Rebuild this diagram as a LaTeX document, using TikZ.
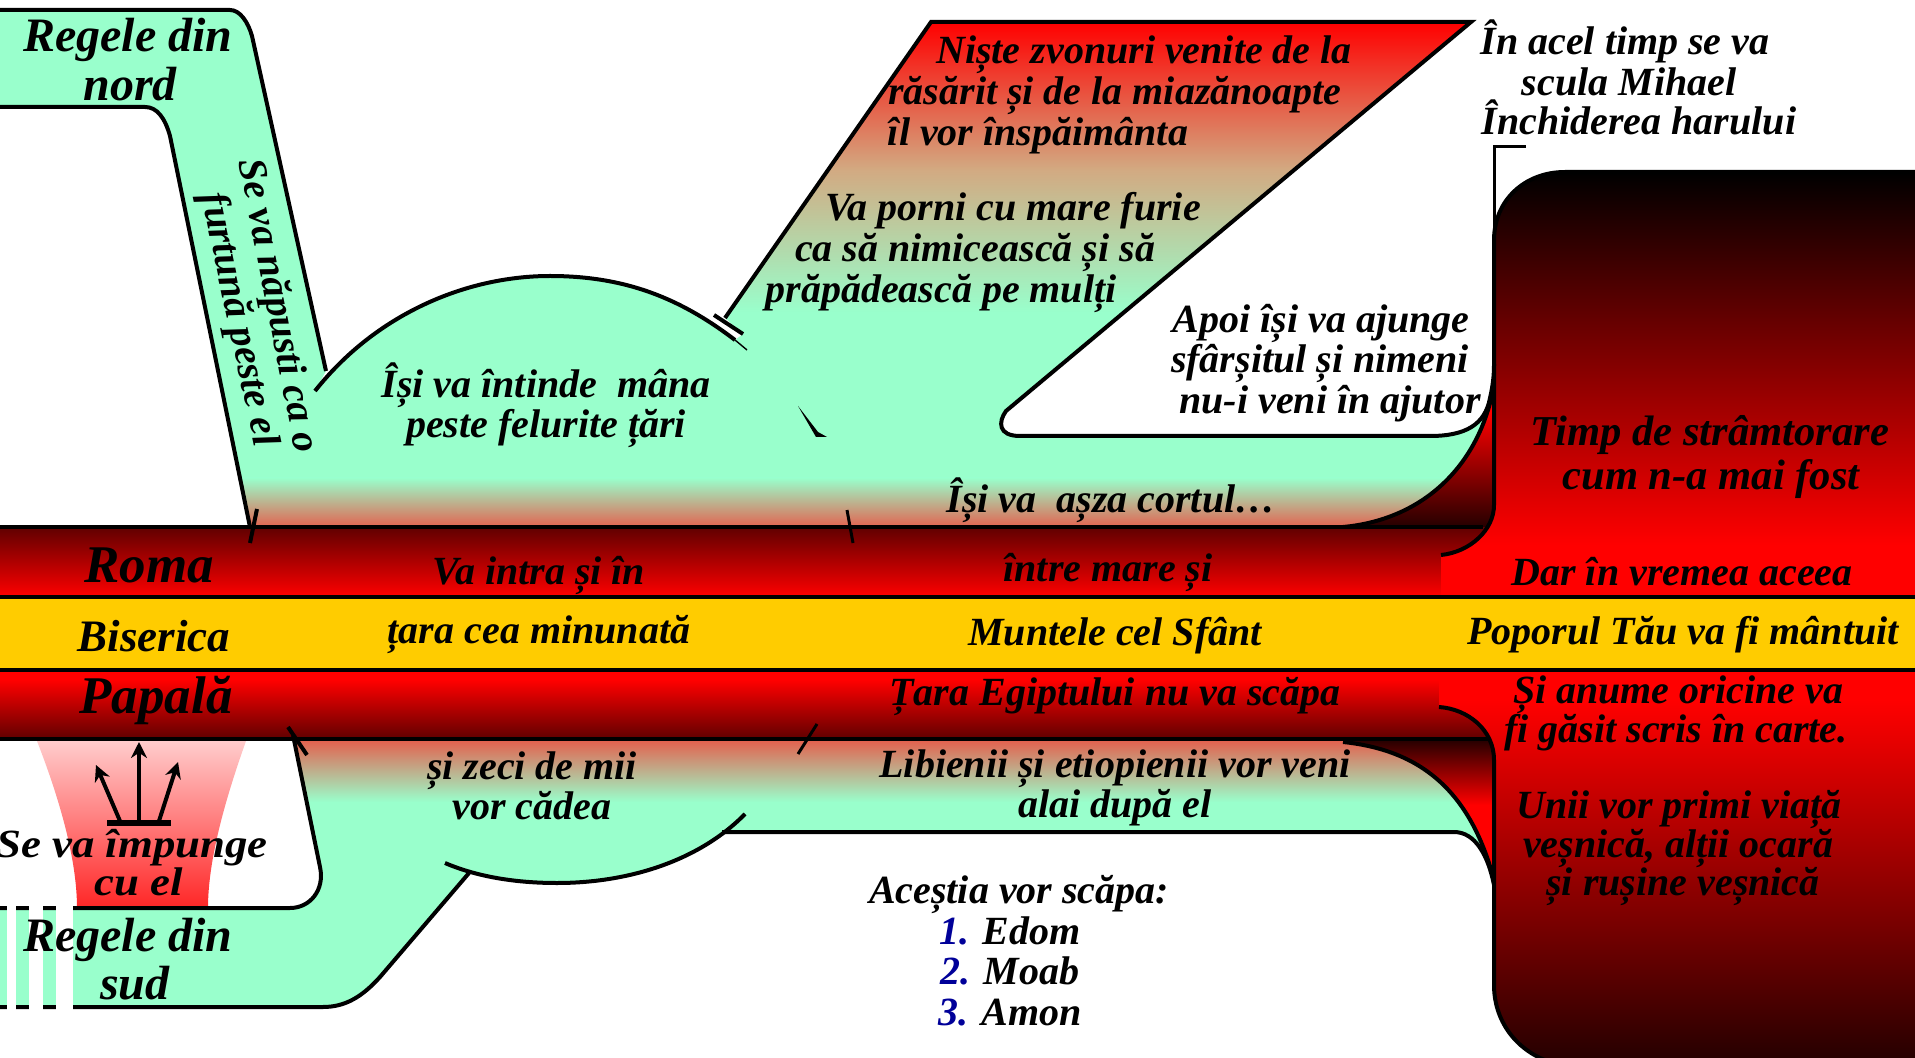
\documentclass[tikz,border=0pt]{standalone}
\usepackage{fontspec}
\setmainfont{Liberation Serif}
\usetikzlibrary{arrows.meta}
\definecolor{mint}{HTML}{99FFCC}
\definecolor{gold}{HTML}{FFCC00}
\definecolor{bandred}{HTML}{FF0000}
\definecolor{dkred}{HTML}{600000}
\definecolor{salmon}{HTML}{E26350}
\definecolor{tan}{HTML}{D2AA82}
\definecolor{numblue}{HTML}{000099}
\definecolor{nearblack}{HTML}{200000}
\newcommand{\fsz}[1]{\fontsize{#1}{#1}\selectfont\bfseries\itshape}
\tikzset{
  outl/.style={draw=black,line width=2pt,line cap=butt,line join=round},
  thinl/.style={draw=black,line width=1.5pt},
  txt/.style={inner sep=0pt,text=black,font=\fsz{20},text height=14pt,text depth=4pt},
  big/.style={txt,font=\fsz{24},text height=17pt,text depth=5pt},
  label/.style={txt,font=\fsz{26.5},text height=18.5pt,text depth=5.5pt},
  lab2/.style={txt,font=\fsz{22.5},text height=16pt,text depth=5pt},
  mid/.style={txt,font=\fsz{21.3},text height=15pt,text depth=4pt},
  up/.style={-{Stealth[length=8pt,width=8pt]},line width=2pt}
}
\begin{document}
\begin{tikzpicture}[x=0.5pt,y=-0.5pt]
\useasboundingbox (0,0) rectangle (1915,1058);
\clip (0,0) rectangle (1915,1058);
\fill[white] (0,0) rectangle (1915,1058);

% ---- wedges beside the large box
\begin{scope}
\clip (1343,527) .. controls (1420,520) and (1475,470) .. (1492,395) -- (1498,395) -- (1498,530) -- (1343,530) -- cycle;
\shade[top color=bandred,bottom color=nearblack] (1343,412) rectangle (1498,530);
\fill[bandred] (1343,390) rectangle (1498,412);
\end{scope}
\begin{scope}
\clip (1343,738) -- (1498,738) -- (1498,885) -- (1494,880) .. controls (1470,790) and (1420,750) .. (1343,742) -- cycle;
\shade[top color=nearblack,bottom color=bandred] (1343,738) rectangle (1498,805);
\fill[bandred] (1343,805) rectangle (1498,890);
\end{scope}

% ---- upper mint region
\begin{scope}
\clip (-5,10) -- (230,10) .. controls (240,10) and (248,22) .. (252,36) -- (326,371) -- (315,391)
  .. controls (375,315) and (465,276) .. (550,276) .. controls (625,276) and (680,298) .. (735,340)
  -- (743,334) -- (725,318) -- (931,22) -- (1471,22) -- (1006,411) .. controls (998,422) and (998,436) .. (1020,436)
  -- (1430,436) .. controls (1465,436) and (1485,425) .. (1490,398) -- (1492,395)
  .. controls (1475,470) and (1420,520) .. (1343,527) -- (250,527) -- (170,136)
  .. controls (165,118) and (157,107) .. (145,107) -- (-5,107) -- cycle;
\fill[mint] (-5,0) rectangle (1500,530);
\shade[top color=red,bottom color=tan] (700,22) rectangle (1500,170);
\shade[top color=tan,bottom color=mint] (700,170) rectangle (1500,312);
\shade[top color=mint,bottom color=salmon] (200,478) rectangle (1500,527);
\end{scope}

% ---- lower mint region
\begin{scope}
\clip (295,739) -- (320,867) .. controls (325,890) and (310,908) .. (290,908) -- (-5,908) -- (-5,1007)
  -- (323,1007) .. controls (345,1007) and (362,997) .. (380,977) -- (469,873)
  -- (445,863) .. controls (480,878) and (520,883) .. (557,883) .. controls (630,883) and (700,860) .. (745,814)
  -- (722,832) -- (1454,832) .. controls (1475,832) and (1488,855) .. (1494,885)
  .. controls (1470,790) and (1420,750) .. (1343,742) -- (1343,739) -- cycle;
\fill[mint] (-5,735) rectangle (1500,1010);
\shade[top color=salmon,bottom color=mint] (200,741) rectangle (1500,802);
\end{scope}

% ---- bands
\shade[top color=dkred,bottom color=bandred] (-2,527) rectangle (1494,597);
\shade[top color=bandred,bottom color=dkred] (-2,680) rectangle (1494,739);
\fill[bandred] (-2,670) rectangle (1494,680);

% ---- large box, upper and lower parts
\begin{scope}
\clip (1920,172) -- (1565,172) .. controls (1525,172) and (1494,200) .. (1494,240) -- (1494,505)
  .. controls (1494,530) and (1470,552) .. (1441,555) -- (1441,600) -- (1920,600) -- cycle;
\shade[top color=black,bottom color=bandred] (1430,172) rectangle (1920,545);
\fill[bandred] (1430,545) rectangle (1920,600);
\end{scope}
\begin{scope}
\clip (1920,668) -- (1439,668) -- (1439,707) .. controls (1468,709) and (1494,730) .. (1494,760) -- (1494,985)
  .. controls (1494,1020) and (1515,1050) .. (1550,1062) -- (1920,1062) -- cycle;
\fill[bandred] (1430,668) rectangle (1920,700);
\shade[top color=bandred,bottom color=black!85!red] (1430,700) rectangle (1920,1060);
\end{scope}

% ---- gold band
\fill[gold] (-2,597) rectangle (1917,670);

% ---- red fan
\shade[top color=red!20,bottom color=red!85!white] (37,741) .. controls (60,800) and (77,860) .. (77,908) -- (208,908)
  .. controls (208,860) and (225,800) .. (246,741) -- cycle;

% ---- outlines, upper
\draw[outl] (-5,10) -- (230,10) .. controls (240,10) and (248,22) .. (252,36) -- (326,371);
\draw[outl] (-5,107) -- (145,107) .. controls (157,107) and (165,118) .. (170,136) -- (250,527);
\draw[outl] (257,509) -- (250,543);
\draw[outl] (315,391) .. controls (375,315) and (465,276) .. (550,276) .. controls (625,276) and (680,298) .. (735,340);
\draw[outl,line width=0.7pt] (735,340) -- (747,350);
\draw[outl] (714,315) -- (743,334);
\draw[outl,line join=miter] (725,318) -- (931,22) -- (1471,22) -- (1006,411)
  .. controls (998,422) and (998,436) .. (1020,436) -- (1430,436)
  .. controls (1465,436) and (1485,425) .. (1490,398) .. controls (1493,385) and (1494,375) .. (1494,364);
\draw[outl] (1343,527) .. controls (1420,520) and (1475,470) .. (1492,395);
\fill[black] (798,406) -- (816,437) -- (827,437) -- (818,432) -- cycle;
\draw[outl,line width=1.5pt] (847,510) -- (853,543);
\draw[thinl] (1526,147) -- (1494,147) -- (1494,254);

% ---- outlines, box
\draw[outl] (1920,172) -- (1565,172) .. controls (1525,172) and (1494,200) .. (1494,240) -- (1494,505)
  .. controls (1494,530) and (1470,552) .. (1441,555);
\draw[outl] (1439,707) .. controls (1468,709) and (1494,730) .. (1494,760) -- (1494,985)
  .. controls (1494,1020) and (1515,1050) .. (1550,1062);

% ---- outlines, band edges
\draw[outl] (-2,527) -- (1483,527);
\draw[outl] (-2,597) -- (1917,597);
\draw[outl] (-2,670) -- (1917,670);
\draw[outl] (-2,739) -- (1490,739);

% ---- outlines, lower
\draw[outl] (288,727) -- (307,755);
\draw[outl] (293,735) -- (320,867) .. controls (325,890) and (310,908) .. (290,908) -- (-5,908);
\draw[outl] (-5,1007) -- (323,1007) .. controls (345,1007) and (362,997) .. (380,977) -- (469,873);
\draw[outl] (445,863) .. controls (480,878) and (520,883) .. (557,883) .. controls (630,883) and (700,860) .. (745,814);
\draw[outl] (722,832) -- (1454,832) .. controls (1475,832) and (1488,855) .. (1494,885);
\draw[outl] (1343,742) .. controls (1420,750) and (1470,790) .. (1494,880);
\draw[outl,line width=1.5pt] (817,724) -- (798,754);

% ---- white bars
\fill[white] (7,905) rectangle (16,1012);
\fill[white] (29,905) rectangle (43,1012);
\fill[white] (56,905) rectangle (73,1012);

% ---- arrows
\coordinate (baseL) at (120,821);
\coordinate (baseC) at (139,821);
\coordinate (baseR) at (159,821);
\coordinate (tipL) at (96,765);
\coordinate (tipC) at (139,742);
\coordinate (tipR) at (178,762);
\fill[black] (107,820) rectangle (171,826);
\draw[up] (baseL) -- (tipL);
\draw[up] (baseC) -- (tipC);
\draw[up] (baseR) -- (tipR);

% ---- texts
\node[big] (nord1) at (128,40) {Regele din};
\node[big] (nord2) at (130,89) {nord};
\node[txt,rotate=-79] (rot1) at (277,306) {Se va năpusti ca o};
\node[txt,rotate=-78] (rot2) at (238,320) {furtună peste el};
\node[txt] (z1) at (1144,54) {Niște zvonuri venite de la};
\node[txt] (z2) at (1115,95) {răsărit și de la miazănoapte};
\node[txt] (z3) at (1038,136) {îl vor înspăimânta};
\node[txt] (v1) at (1013,211) {Va porni cu mare furie};
\node[txt] (v2) at (975,252) {ca să nimicească și să};
\node[txt] (v3) at (941,293) {prăpădească pe mulți};
\node[txt] (a1) at (1321,323) {Apoi își va ajunge};
\node[txt] (a2) at (1320,363) {sfârșitul și nimeni};
\node[txt] (a3) at (1330,404) {nu-i veni în ajutor};
\node[txt] (c1) at (1111,502) {Își va \ așza cortul…};
\node[txt] (i1) at (1625,45) {În acel timp se va};
\node[txt] (i2) at (1629,86) {scula Mihael};
\node[txt] (i3) at (1639,125) {Închiderea harului};
\node[mid] (t1) at (1710,435) {Timp de strâmtorare};
\node[mid] (t2) at (1711,478) {cum n-a mai fost};
\node[txt] (d1) at (1682,575) {Dar în vremea aceea};
\node[txt] (p1) at (1683,634) {Poporul Tău va fi mântuit};
\node[lab2] (bis) at (154,640) {Biserica};
\node[label] (roma) at (149,569) {Roma};
\node[label] (pap) at (156,700) {Papală};
\node[txt] (m1) at (539,574) {Va intra și în};
\node[txt] (m2) at (1108,571) {între mare și};
\node[txt] (m3) at (539,633) {țara cea minunată};
\node[txt] (m4) at (1115,635) {Muntele cel Sfânt};
\node[txt] (m5) at (1115,695) {Țara Egiptului nu va scăpa};
\node[txt] (s1) at (532,769) {și zeci de mii};
\node[txt] (s2) at (532,809) {vor cădea};
\node[txt] (l1) at (1115,767) {Libienii și etiopienii vor veni};
\node[txt] (l2) at (1115,807) {alai după el};
\node[txt] (w1) at (546,388) {Își va întinde \ mâna};
\node[txt] (w2) at (546,428) {peste felurite țări};
\node[txt,xscale=1.12,transform shape] (e1) at (132,847) {Se va împunge};
\node[txt,xscale=1.12,transform shape] (e2) at (139,885) {cu el};
\node[big] (sud1) at (128,939) {Regele din};
\node[big] (sud2) at (135,987) {sud};
\node[txt] (q0) at (1019,893) {Aceștia vor scăpa:};
\node[txt] (q1) at (1010,934) {\textcolor{numblue}{1.} Edom};
\node[txt] (q2) at (1010,974) {\textcolor{numblue}{2.} Moab};
\node[txt] (q3) at (1010,1015) {\textcolor{numblue}{3.} Amon};
\node[txt] (o1) at (1678,693) {Și anume oricine va};
\node[txt] (o2) at (1676,732) {fi găsit scris în carte.};
\node[txt] (o3) at (1679,808) {Unii vor primi viață};
\node[txt] (o4) at (1678,847) {veșnică, alții ocară};
\node[txt] (o5) at (1683,885) {și rușine veșnică};
\end{tikzpicture}
\end{document}
